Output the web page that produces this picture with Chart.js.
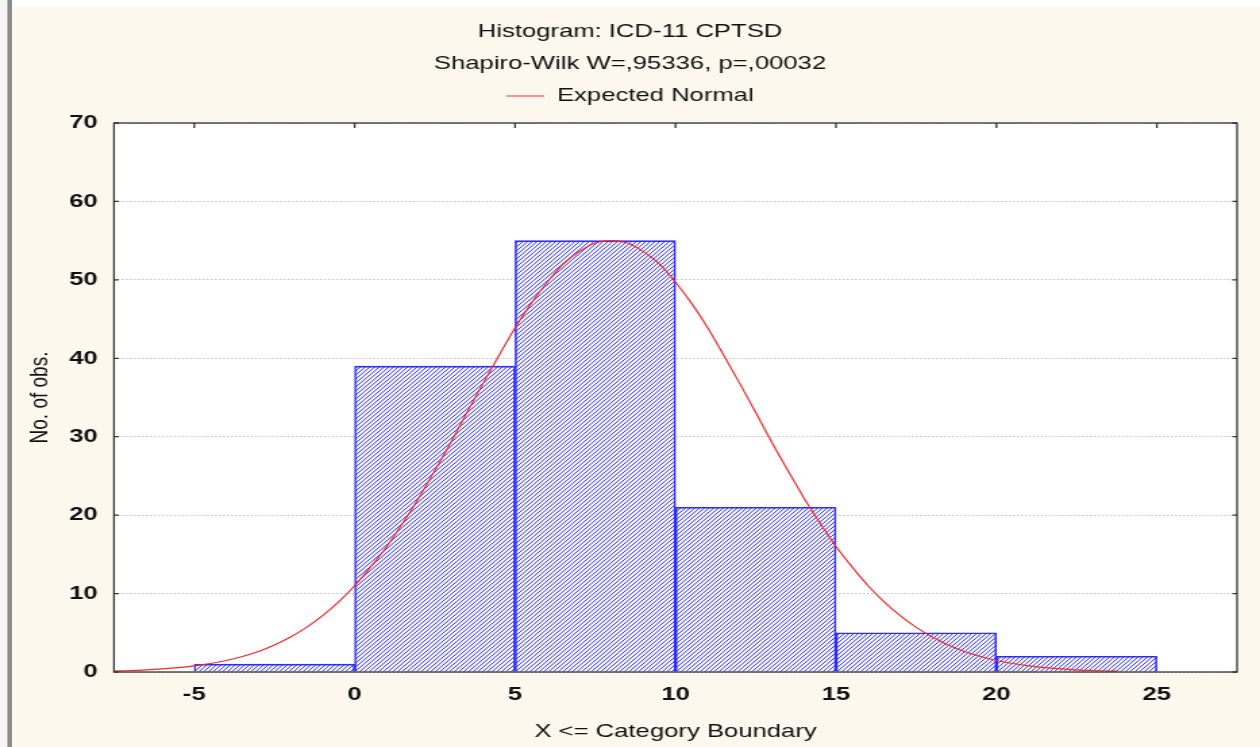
<!DOCTYPE html>
<html>
<head>
<meta charset="utf-8">
<script src="https://cdn.jsdelivr.net/npm/chart.js@4.4.0/dist/chart.umd.min.js"></script>
<style>
    html, body { margin: 0; padding: 0; }
    body { width: 1260px; height: 747px; background: #fcf8ee; position: relative; overflow: hidden; }
    .topband { position: absolute; left: 0; top: 0; width: 1260px; height: 7px; background: #ffffff; }
    .leftband { position: absolute; left: 0; top: 0; width: 7px; height: 747px; background: #f6f6f6; }
    .leftbar { position: absolute; left: 7px; top: 0; width: 5px; height: 747px; background: #8a8a8a; border-left: 1px solid #b8b8b8; box-sizing: border-box; }
    /* the reference is stretched sideways, so the canvas is too */
    #wrap { position: absolute; left: 0; top: 0; width: 933px; height: 747px; transform: scaleX(1.3505); transform-origin: 0 0; }
</style>
</head>
<body>
<div class="topband"></div>
<div class="leftband"></div>
<div class="leftbar"></div>
<div id="wrap"><canvas id="chart" width="933" height="747"></canvas></div>
<script>
// histogram bins
const binLow = [-5, 0, 5, 10, 15, 20];
const binHigh = [0, 5, 10, 15, 20, 25];
const binCounts = [1, 39, 55, 21, 5, 2];

// expected normal curve
const curveX = [-7.5, -7, -6.5, -6, -5.5, -5, -4.5, -4, -3.5, -3, -2.5, -2, -1.5, -1, -0.5,
    0, 0.5, 1, 1.5, 2, 2.5, 3, 3.5, 4, 4.5, 5, 5.5, 6, 6.5, 7, 7.5,
    8, 8.5, 9, 9.5, 10, 10.5, 11, 11.5, 12, 12.5, 13, 13.5, 14, 14.5, 15, 15.5,
    16, 16.5, 17, 17.5, 18, 18.5, 19, 19.5, 20, 20.5, 21, 21.5, 22, 22.5, 23, 23.5, 23.75];
const curveY = [0.13, 0.19, 0.28, 0.40, 0.56, 0.79, 1.08, 1.47, 1.98, 2.62, 3.44, 4.46, 5.69, 7.18, 8.95,
    11.0, 13.4, 16.0, 19.0, 22.2, 25.7, 29.3, 33.1, 36.8, 40.4, 43.9, 47.0, 49.7, 52.0, 53.6, 54.7,
    55.0, 54.7, 53.6, 52.0, 49.7, 47.0, 43.9, 40.4, 36.8, 33.1, 29.3, 25.7, 22.2, 19.0, 16.0, 13.4,
    11.0, 8.95, 7.18, 5.69, 4.46, 3.44, 2.62, 1.98, 1.47, 1.08, 0.79, 0.56, 0.40, 0.28, 0.19, 0.13, 0.11];

// axes
const xTicks = [-5, 0, 5, 10, 15, 20, 25];
const yTicks = [0, 10, 20, 30, 40, 50, 60, 70];

const FAMILY = '"Liberation Sans", Arial, sans-serif';
const FONT = { family: FAMILY, size: 19, weight: 'normal' };
const TICKFONT = { family: FAMILY, size: 19, weight: 'bold' };
const TEXT = '#111111';
const RED = '#f02a2a';

const canvas = document.getElementById('chart');
const ctx = canvas.getContext('2d');

// diagonal hatch for the bars
function makeHatch() {
    const tile = document.createElement('canvas');
    tile.width = 7;
    tile.height = 8;
    const g = tile.getContext('2d');
    g.fillStyle = '#ffffff';
    g.fillRect(0, 0, 7, 8);
    g.strokeStyle = '#3434e2';
    g.lineWidth = 1.0;
    [-7, -3.5, 0, 3.5, 7].forEach(d => {
        g.beginPath();
        g.moveTo(d, 8);
        g.lineTo(d + 7, 0);
        g.stroke();
    });
    return ctx.createPattern(tile, 'repeat');
}

const framePlugin = {
    id: 'frame',
    beforeDraw(chart) {
        const a = chart.chartArea;
        const c = chart.ctx;
        c.save();
        c.fillStyle = '#ffffff';
        c.fillRect(a.left, a.top, a.right - a.left, a.bottom - a.top);
        c.restore();
    },
    afterDatasetsDraw(chart) {
        const a = chart.chartArea;
        const c = chart.ctx;
        const xs = chart.scales.x;
        const ys = chart.scales.y;
        c.save();
        c.strokeStyle = '#333333';
        c.lineWidth = 1.3;
        c.strokeRect(a.left, a.top, a.right - a.left, a.bottom - a.top);
        c.beginPath();
        yTicks.forEach(v => {
            const py = ys.getPixelForValue(v);
            c.moveTo(a.left, py);
            c.lineTo(a.left + 3.5, py);
            c.moveTo(a.right, py);
            c.lineTo(a.right - 3.5, py);
        });
        xTicks.forEach(v => {
            const px = xs.getPixelForValue(v);
            c.moveTo(px, a.top);
            c.lineTo(px, a.top + 5);
        });
        c.stroke();
        c.restore();
    }
};

const barData = binLow.map((lo, i) => ({ x: (lo + binHigh[i]) / 2, y: binCounts[i] }));
const curveData = curveX.map((x, i) => ({ x: x, y: curveY[i] }));

new Chart(canvas, {
    type: 'bar',
    data: {
        datasets: [
            {
                type: 'bar',
                label: 'ICD-11 CPTSD',
                data: barData,
                xAxisID: 'x',
                yAxisID: 'y',
                backgroundColor: makeHatch(),
                borderColor: '#2c2cff',
                borderWidth: 1.6,
                barPercentage: 1,
                categoryPercentage: 1,
                order: 1
            },
            {
                type: 'line',
                label: 'Expected Normal',
                data: curveData,
                xAxisID: 'x',
                yAxisID: 'y',
                borderColor: RED,
                backgroundColor: RED,
                borderWidth: 1.2,
                pointRadius: 0,
                fill: false,
                cubicInterpolationMode: 'monotone',
                order: 0
            }
        ]
    },
    options: {
        responsive: false,
        animation: false,
        devicePixelRatio: 1,
        events: [],
        layout: { padding: { left: 17, right: 17, top: 0, bottom: 0 } },
        plugins: {
            title: {
                display: true,
                text: ['Histogram: ICD-11 CPTSD', 'Shapiro-Wilk W=,95336, p=,00032'],
                font: { family: FAMILY, size: 19, weight: 'normal', lineHeight: 32 / 19 },
                color: TEXT,
                padding: { top: 16, bottom: 0 }
            },
            legend: {
                display: true,
                position: 'top',
                labels: {
                    font: FONT,
                    color: TEXT,
                    boxWidth: 28,
                    boxHeight: 0,
                    padding: 6.5,
                    filter: item => item.datasetIndex === 1
                }
            },
            tooltip: { enabled: false }
        },
        scales: {
            x: {
                type: 'linear',
                position: 'bottom',
                offset: false,
                min: -7.5,
                max: 27.5,
                afterBuildTicks: s => { s.ticks = xTicks.map(v => ({ value: v })); },
                afterFit: s => { s.height = 75; },
                grid: { display: false, drawTicks: false, offset: false },
                border: { display: false },
                ticks: { padding: 11, font: TICKFONT, color: TEXT, maxRotation: 0, autoSkip: false },
                title: { display: true, text: 'X <= Category Boundary', font: FONT, color: TEXT, padding: { top: 0, bottom: 4 } }
            },
            xTop: {
                type: 'linear',
                position: 'top',
                offset: false,
                min: -7.5,
                max: 27.5,
                afterBuildTicks: s => { s.ticks = xTicks.map(v => ({ value: v })); },
                afterFit: s => { s.height = 7.5; },
                grid: { display: false, drawTicks: false },
                border: { display: false },
                ticks: { display: false }
            },
            y: {
                type: 'linear',
                min: 0,
                max: 70,
                afterBuildTicks: s => { s.ticks = yTicks.map(v => ({ value: v })); },
                afterFit: s => { s.width = 67.4; },
                grid: { color: '#c4c4c4', lineWidth: 1, drawTicks: false },
                border: { display: false, dash: [1.5, 1.5] },
                ticks: { padding: 12, font: TICKFONT, color: TEXT },
                title: { display: true, text: 'No. of obs.', font: FONT, color: TEXT, padding: { top: 1, bottom: 0 } }
            }
        }
    },
    plugins: [framePlugin]
});
</script>
</body>
</html>
